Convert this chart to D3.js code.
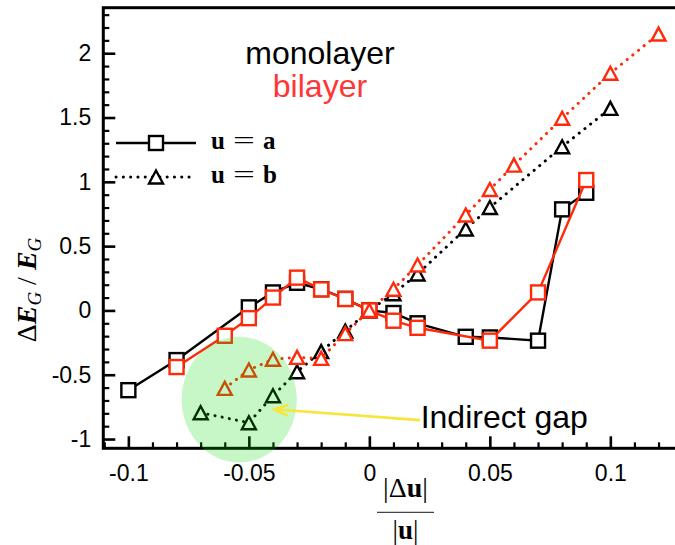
<!DOCTYPE html>
<html>
<head>
<meta charset="utf-8">
<script src="https://d3js.org/d3.v7.min.js"></script>
<style>
  body { margin: 0; background: #fff; }
</style>
</head>
<body>
<div id="chart"></div>
<script>
// monolayer, u = a (squares, solid)
var monoSqX = [-0.1, -0.08, -0.05, -0.04, -0.03, -0.02, -0.01, 0, 0.01, 0.02, 0.04, 0.05, 0.07, 0.08, 0.09];
var monoSqY = [-0.62, -0.386, 0.024, 0.14, 0.215, 0.165, 0.09, 0, -0.02, -0.10, -0.205, -0.21, -0.235, 0.786, 0.915];
// bilayer, u = a
var biSqX = [-0.08, -0.06, -0.05, -0.04, -0.03, -0.02, -0.01, 0, 0.01, 0.02, 0.05, 0.07, 0.09];
var biSqY = [-0.44, -0.197, -0.06, 0.10, 0.255, 0.164, 0.089, 0, -0.08, -0.135, -0.235, 0.14, 1.014];
// monolayer, u = b (triangles, dotted)
var monoTrX = [-0.07, -0.05, -0.04, -0.03, -0.02, -0.01, 0, 0.01, 0.02, 0.04, 0.05, 0.08, 0.1];
var monoTrY = [-0.795, -0.873, -0.663, -0.477, -0.32, -0.16, 0, 0.13, 0.283, 0.633, 0.80, 1.273, 1.571];
// bilayer, u = b
var biTrX = [-0.06, -0.05, -0.04, -0.03, -0.02, -0.01, 0, 0.01, 0.02, 0.04, 0.05, 0.06, 0.08, 0.1, 0.12];
var biTrY = [-0.606, -0.463, -0.38, -0.365, -0.373, -0.18, 0, 0.165, 0.353, 0.742, 0.94, 1.13, 1.494, 1.844, 2.149];

var xTicks = [-0.1, -0.05, 0, 0.05, 0.1];
var xTickLabels = ["-0.1", "-0.05", "0", "0.05", "0.1"];
var yTicks = [-1, -0.5, 0, 0.5, 1, 1.5, 2];
var yTickLabels = ["-1", "-0.5", "0", "0.5", "1", "1.5", "2"];

var SANS = "'Liberation Sans', Arial, sans-serif";
var SERIF = "'Liberation Serif', 'DejaVu Serif', serif";

var W = 675, H = 545;
var svg = d3.select("#chart").append("svg")
  .attr("width", W).attr("height", H);

var x = d3.scaleLinear().domain([-0.1104, 0.137]).range([103.3, 699.5]);
var y = d3.scaleLinear().domain([-1.072, 2.354]).range([448.3, 7.7]);

// minor ticks
var xMinor = d3.range(-11, 14).map(function(i){ return i / 100; })
  .filter(function(v){ return Math.abs(Math.round(v * 100) % 5) != 0; });
var yMinor = d3.range(-10, 24).map(function(i){ return i / 10; })
  .filter(function(v){ return Math.abs(Math.round(v * 10) % 5) != 0; });

var gxm = svg.append("g").attr("transform", "translate(0,448.3)")
  .call(d3.axisBottom(x).tickValues(xMinor).tickSize(-6).tickFormat(""));
var gym = svg.append("g").attr("transform", "translate(103.3,0)")
  .call(d3.axisLeft(y).tickValues(yMinor).tickSize(-6).tickFormat(""));
var gx = svg.append("g").attr("transform", "translate(0,448.3)")
  .call(d3.axisBottom(x).tickValues(xTicks).tickSize(-12).tickPadding(16)
    .tickFormat(function(d, i){ return xTickLabels[i]; }));
var gy = svg.append("g").attr("transform", "translate(103.3,0)")
  .call(d3.axisLeft(y).tickValues(yTicks).tickSize(-12).tickPadding(12)
    .tickFormat(function(d, i){ return yTickLabels[i]; }));

[gxm, gym, gx, gy].forEach(function(g){
  g.select(".domain").remove();
  g.selectAll(".tick line").attr("stroke", "#000").attr("stroke-width", 2.2);
  g.selectAll(".tick text").attr("fill", "#000")
    .style("font-family", SANS).style("font-size", "23px");
});
gx.selectAll(".tick line").attr("stroke-width", 2.6);
gy.selectAll(".tick line").attr("stroke-width", 2.6);

// frame
svg.append("rect")
  .attr("x", 103.3).attr("y", 7.7)
  .attr("width", 700 - 103.3).attr("height", 448.3 - 7.7)
  .attr("fill", "none").attr("stroke", "#000").attr("stroke-width", 3);

function pts(xs, ys){ return xs.map(function(v, i){ return [v, ys[i]]; }); }
var line = d3.line().x(function(d){ return x(d[0]); }).y(function(d){ return y(d[1]); });

function drawSeries(xs, ys, color, dotted, shape){
  var data = pts(xs, ys);
  var p = svg.append("path").datum(data).attr("d", line)
    .attr("fill", "none").attr("stroke", color).attr("stroke-width", dotted ? 3 : 2.4);
  if (dotted) p.attr("stroke-dasharray", "0.1 7.2").attr("stroke-linecap", "round");
  if (shape == "square") {
    svg.append("g").selectAll("rect").data(data).enter().append("rect")
      .attr("x", function(d){ return x(d[0]) - 7; })
      .attr("y", function(d){ return y(d[1]) - 7; })
      .attr("width", 14).attr("height", 14)
      .attr("fill", "#fff").attr("stroke", color).attr("stroke-width", 2.4);
  } else {
    svg.append("g").selectAll("path").data(data).enter().append("path")
      .attr("d", function(d){
        var cx = x(d[0]), cy = y(d[1]);
        return "M" + cx + "," + (cy - 6.5) + "L" + (cx - 7) + "," + (cy + 6.5) + "L" + (cx + 7) + "," + (cy + 6.5) + "Z";
      })
      .attr("fill", "#fff").attr("stroke", color).attr("stroke-width", 2.4)
      .attr("stroke-linejoin", "miter");
  }
}

drawSeries(monoSqX, monoSqY, "#000", false, "square");
drawSeries(monoTrX, monoTrY, "#000", true, "triangle");
drawSeries(biSqX, biSqY, "#ff2a0a", false, "square");
drawSeries(biTrX, biTrY, "#ff2a0a", true, "triangle");

// green highlight over the indirect gap points
svg.append("ellipse")
  .attr("cx", x(-0.054)).attr("cy", y(-0.693))
  .attr("rx", x(-0.054 + 0.0239) - x(-0.054)).attr("ry", y(-0.693) - y(-0.693 + 0.489))
  .attr("fill", "rgb(0,220,0)").attr("fill-opacity", 0.22);

// arrow
var tip = [x(-0.0395), y(-0.768)], tail = [x(0.021), y(-0.853)];
var ang = Math.atan2(tail[1] - tip[1], tail[0] - tip[0]);
svg.append("path")
  .attr("d", "M" + tail[0] + "," + tail[1] + "L" + tip[0] + "," + tip[1] +
    "M" + (tip[0] + 15 * Math.cos(ang + 0.38)) + "," + (tip[1] + 15 * Math.sin(ang + 0.38)) +
    "L" + tip[0] + "," + tip[1] +
    "L" + (tip[0] + 15 * Math.cos(ang - 0.38)) + "," + (tip[1] + 15 * Math.sin(ang - 0.38)))
  .attr("fill", "none").attr("stroke", "#f6e63c").attr("stroke-width", 2.6);

svg.append("text").attr("x", x(0.0213)).attr("y", y(-0.917))
  .style("font-family", SANS).style("font-size", "32px").attr("fill", "#000").text("Indirect gap");

svg.append("text").attr("x", x(-0.0205)).attr("y", y(1.916))
  .attr("text-anchor", "middle").style("font-family", SANS).style("font-size", "32px")
  .attr("fill", "#000").text("monolayer");
svg.append("text").attr("x", x(-0.0205)).attr("y", y(1.66))
  .attr("text-anchor", "middle").style("font-family", SANS).style("font-size", "32px")
  .attr("fill", "#ff3636").text("bilayer");

// legend
var leg = svg.append("g");
leg.append("line").attr("x1", 116).attr("x2", 196).attr("y1", 143).attr("y2", 143)
  .attr("stroke", "#000").attr("stroke-width", 2.4);
leg.append("rect").attr("x", 149).attr("y", 136).attr("width", 14).attr("height", 14)
  .attr("fill", "#fff").attr("stroke", "#000").attr("stroke-width", 2.4);
leg.append("line").attr("x1", 116).attr("x2", 196).attr("y1", 177).attr("y2", 177)
  .attr("stroke", "#000").attr("stroke-width", 3)
  .attr("stroke-dasharray", "0.1 7.2").attr("stroke-linecap", "round");
leg.append("path").attr("d", "M156,170.5L149,183.5L163,183.5Z")
  .attr("fill", "#fff").attr("stroke", "#000").attr("stroke-width", 2.4);

function mathLabel(yb, letter){
  leg.append("text").attr("x", 211).attr("y", yb)
    .style("font-family", SERIF).style("font-size", "25px").style("font-weight", "bold")
    .attr("fill", "#000").text("u");
  leg.append("text").attr("transform", "translate(233," + yb + ") scale(1.55,1)")
    .style("font-family", SERIF).style("font-size", "25px")
    .attr("fill", "#000").text("=");
  leg.append("text").attr("x", 263).attr("y", yb)
    .style("font-family", SERIF).style("font-size", "25px").style("font-weight", "bold")
    .attr("fill", "#000").text(letter);
}
mathLabel(149, "a");
mathLabel(183, "b");

// y axis title
var yl = svg.append("text").attr("transform", "translate(36,290) rotate(-90)")
  .attr("text-anchor", "middle")
  .style("font-family", SERIF).style("font-size", "28px").attr("fill", "#000");
yl.append("tspan").text("Δ");
yl.append("tspan").style("font-style", "italic").style("font-weight", "bold").text("E");
yl.append("tspan").style("font-style", "italic").style("font-size", "19px").attr("dy", 5).text("G");
yl.append("tspan").attr("dy", -5).text(" / ");
yl.append("tspan").style("font-style", "italic").style("font-weight", "bold").text("E");
yl.append("tspan").style("font-style", "italic").style("font-size", "19px").attr("dy", 5).text("G");

// x axis title (fraction)
var num = svg.append("text").attr("x", 405.5).attr("y", 497).attr("text-anchor", "middle")
  .style("font-family", SERIF).style("font-size", "28px").attr("fill", "#000");
num.append("tspan").text("|Δ");
num.append("tspan").style("font-weight", "bold").text("u");
num.append("tspan").text("|");
svg.append("line").attr("x1", 377).attr("x2", 434).attr("y1", 512.3).attr("y2", 512.3)
  .attr("stroke", "#444").attr("stroke-width", 1.3);
var den = svg.append("text").attr("x", 405.5).attr("y", 539).attr("text-anchor", "middle")
  .style("font-family", SERIF).style("font-size", "27px").attr("fill", "#000");
den.append("tspan").text("|");
den.append("tspan").style("font-weight", "bold").text("u");
den.append("tspan").text("|");
</script>
</body>
</html>
